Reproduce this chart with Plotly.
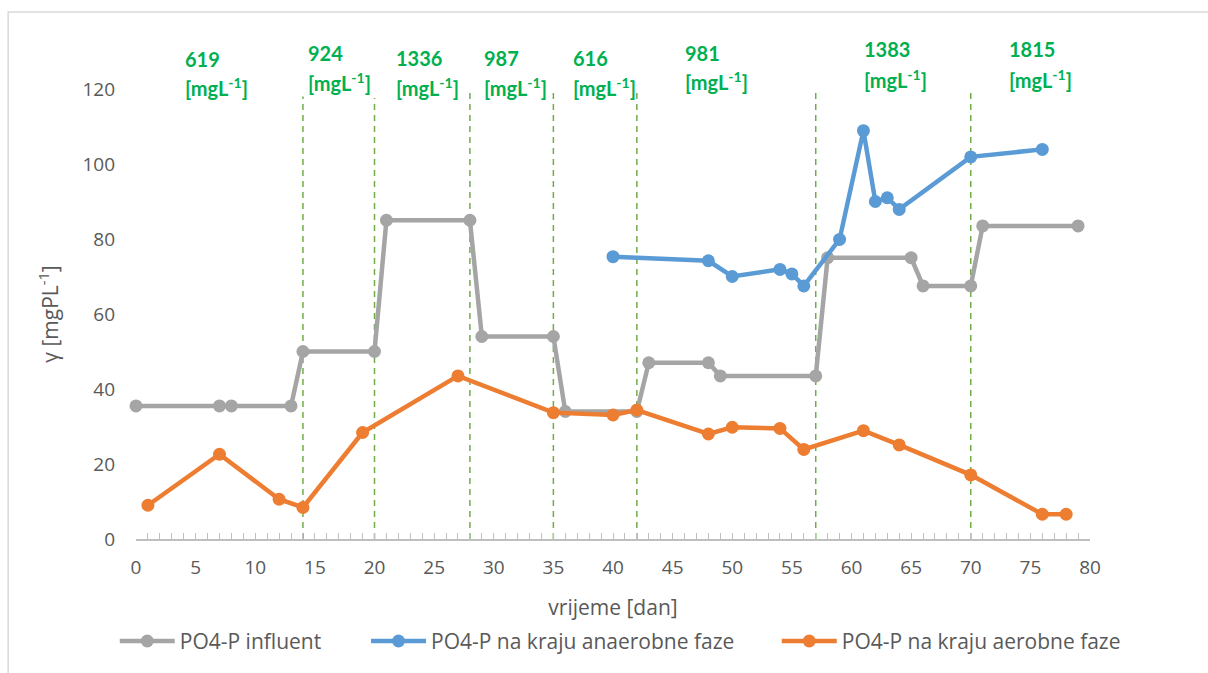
import plotly.graph_objects as go

# ---- data ----
influent_x = [0, 7, 8, 13, 14, 20, 21, 28, 29, 35, 36, 42, 43, 48, 49, 57, 58, 65, 66, 70, 71, 79]
influent_y = [35.5, 35.5, 35.5, 35.5, 50, 50, 85, 85, 54, 54, 34, 34, 47, 47, 43.5, 43.5,
              75, 75, 67.5, 67.5, 83.5, 83.5]

anaer_x = [40, 48, 50, 54, 55, 56, 59, 61, 62, 63, 64, 70, 76]
anaer_y = [75.3, 74.2, 70, 71.9, 70.7, 67.5, 79.9, 108.9, 90, 91, 87.9, 101.9, 103.9]

aer_x = [1, 7, 12, 14, 19, 27, 35, 40, 42, 48, 50, 54, 56, 61, 64, 70, 76, 78]
aer_y = [9.0, 22.6, 10.6, 8.4, 28.4, 43.5, 33.7, 33.1, 34.4, 28.0, 29.8, 29.5, 23.9,
         28.9, 25.1, 17.1, 6.6, 6.6]

phase_x = [14, 20, 28, 35, 42, 57, 70]
phase_top = [118, 117.6, 120.3, 121, 121.6, 121.9, 121.7]

conc_labels = ["619", "924", "1336", "987", "616", "981", "1383", "1815"]
conc_x = [3.94, 14.26, 21.6, 29.0, 36.5, 45.9, 60.9, 73.0]
conc_num_y = [128.0, 129.6, 128.3, 128.3, 128.3, 129.7, 130.7, 130.7]
conc_unit_y = [120.5, 121.9, 120.5, 120.5, 120.5, 122.1, 122.7, 122.7]

series_names = ["PO4-P influent", "PO4-P na kraju anaerobne faze", "PO4-P na kraju aerobne faze"]
colors = ["#A5A5A5", "#5B9BD5", "#ED7D31"]

Y_MAX = 120
legend_ids = ["legend", "legend2", "legend3"]
legend_left = [0.095, 0.303, 0.643]  # container fraction, left edge of each legend entry

fig = go.Figure()

for xs, ys, name, c, lg in [(influent_x, influent_y, series_names[0], colors[0], legend_ids[0]),
                            (anaer_x, anaer_y, series_names[1], colors[1], legend_ids[1]),
                            (aer_x, aer_y, series_names[2], colors[2], legend_ids[2])]:
    fig.add_trace(go.Scatter(
        x=xs, y=ys, name=name, mode="lines+markers",
        line=dict(color=c, width=4.5),
        marker=dict(color=c, size=13),
        cliponaxis=False,
        legend=lg,
    ))

shapes = []
for px, top in zip(phase_x, phase_top):
    shapes.append(dict(type="line", xref="x", yref="y", x0=px, x1=px, y0=0, y1=top,
                       line=dict(color="#70AD47", width=1.5, dash="6px,5px"), layer="below"))
# outer chart border
shapes.append(dict(type="rect", xref="paper", yref="paper", x0=-0.134, x1=1.2, y0=-0.5, y1=1.171,
                   line=dict(color="#D9D9D9", width=1.5), layer="below"))

annotations = []
for lab, ax_, ny, uy in zip(conc_labels, conc_x, conc_num_y, conc_unit_y):
    annotations.append(dict(x=ax_, y=ny / Y_MAX, xref="x", yref="paper", text="<b>" + lab + "</b>",
                            showarrow=False, xanchor="left", yanchor="middle",
                            font=dict(family="Lato", size=20, color="#00B050")))
    annotations.append(dict(x=ax_, y=uy / Y_MAX, xref="x", yref="paper",
                            text="<b>[mgL<sup>-1</sup>]</b>",
                            showarrow=False, xanchor="left", yanchor="middle",
                            font=dict(family="Lato", size=20, color="#00B050")))

def legend_cfg(xpos):
    return dict(orientation="h", xref="container", yref="container",
                x=xpos, xanchor="left", y=0.047, yanchor="middle",
                itemwidth=55, font=dict(size=21, color="#595959"),
                bgcolor="rgba(0,0,0,0)")

fig.update_layout(
    width=1208, height=673,
    margin=dict(l=136, r=118, t=89, b=134, autoexpand=False),
    paper_bgcolor="white", plot_bgcolor="white",
    font=dict(family="Open Sans", size=19, color="#595959"),
    shapes=shapes,
    annotations=annotations,
    showlegend=True,
    legend=legend_cfg(legend_left[0]),
    legend2=legend_cfg(legend_left[1]),
    legend3=legend_cfg(legend_left[2]),
)

fig.update_xaxes(
    range=[0, 80], dtick=5, tick0=0,
    showgrid=False, zeroline=False,
    showline=True, linecolor="#BFBFBF", linewidth=1.5,
    ticks="inside", ticklen=6, tickcolor="#BFBFBF", tickwidth=1,
    minor=dict(dtick=1, ticks="inside", ticklen=6, tickcolor="#BFBFBF", tickwidth=1),
    ticklabelstandoff=10,
    tickfont=dict(size=19, color="#595959"),
    title=dict(text="vrijeme [dan]", font=dict(size=21, color="#595959"), standoff=26),
)
fig.update_yaxes(
    range=[0, Y_MAX], dtick=20, tick0=0,
    showgrid=False, zeroline=False, showline=False, ticks="",
    ticklabelstandoff=20,
    tickfont=dict(size=19, color="#595959"),
    title=dict(text="γ [mgPL<sup>-1</sup>]", font=dict(size=21, color="#595959"), standoff=18),
)

fig.write_html("out.html", config={"displayModeBar": False},
               post_script="document.body.style.margin='0';")
